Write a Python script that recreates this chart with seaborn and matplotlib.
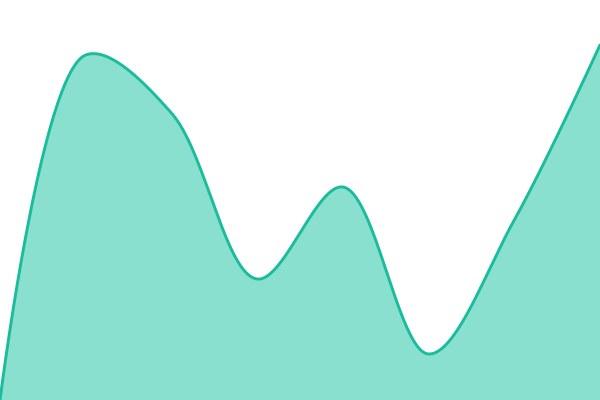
import numpy as np
import pandas as pd
import seaborn as sns
import matplotlib
matplotlib.use("Agg")
import matplotlib.pyplot as plt

# data points (evenly spaced)
steps = [0, 1, 2, 3, 4, 5, 6, 7]
values = [0, 345, 287, 121, 213, 46, 180, 355]

line_color = "#1abc9c"
fill_color = "#8ae0cf"


# centripetal Catmull-Rom smoothing (alpha 0.5), worked out in pixel space
def catmull_rom(xs, ys, sx=600 / 7, sy=1.0, alpha=0.5, n=60):
    P = [np.array([x * sx, y * sy], dtype=float) for x, y in zip(xs, ys)]
    out = []
    for i in range(len(P) - 1):
        p0 = P[i - 1] if i > 0 else None
        p1, p2 = P[i], P[i + 1]
        p3 = P[i + 2] if i + 2 < len(P) else None
        l12 = np.linalg.norm(p2 - p1) ** alpha
        c1 = p1.copy()
        if p0 is not None:
            l01 = np.linalg.norm(p1 - p0) ** alpha
            a = 2 * l01 ** 2 + 3 * l01 * l12 + l12 ** 2
            m = 3 * l01 * (l01 + l12)
            c1 = (p1 * a - p0 * l12 ** 2 + p2 * l01 ** 2) / m
        c2 = p2.copy()
        if p3 is not None:
            l23 = np.linalg.norm(p3 - p2) ** alpha
            b = 2 * l23 ** 2 + 3 * l23 * l12 + l12 ** 2
            m = 3 * l23 * (l23 + l12)
            c2 = (p2 * b + p1 * l23 ** 2 - p3 * l12 ** 2) / m
        t = np.linspace(0, 1, n, endpoint=(i == len(P) - 2))[:, None]
        seg = (1 - t) ** 3 * p1 + 3 * t * (1 - t) ** 2 * c1 + 3 * t ** 2 * (1 - t) * c2 + t ** 3 * p2
        out.append(seg)
    out = np.vstack(out)
    return out[:, 0] / sx, out[:, 1] / sy


sx, sy = catmull_rom(steps, values)
df = pd.DataFrame({"x": sx, "y": sy})

sns.set_style("white")
fig = plt.figure(figsize=(6, 4), dpi=100)
ax = fig.add_axes([0, 0, 1, 1])

ax.fill_between(df["x"], df["y"], 0, color=fill_color, linewidth=0)
sns.lineplot(data=df, x="x", y="y", ax=ax, color=line_color, linewidth=2.1, sort=False)

ax.set_xlim(steps[0], steps[-1])
ax.set_ylim(0, 400)
ax.axis("off")

fig.savefig("out.png", dpi=100)
